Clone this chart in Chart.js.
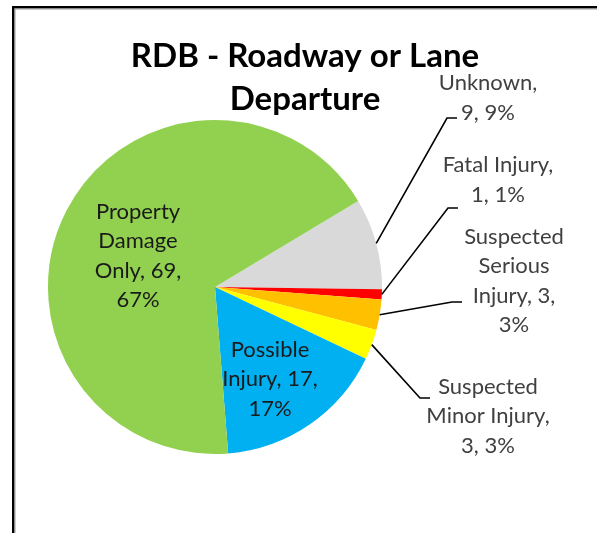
<!DOCTYPE html>
<html>
<head>
<meta charset="utf-8">
<script src="https://cdn.jsdelivr.net/npm/chart.js@4"></script>
<style>
  html, body { margin: 0; padding: 0; background: #fff; }
  #wrap { width: 597px; height: 533px; position: relative; }
</style>
</head>
<body>
<div id="wrap"><canvas id="pieChart" width="597" height="533"></canvas></div>
<script>
const titleLines = ["RDB - Roadway or Lane", "Departure"];
const categories = ["Unknown", "Fatal Injury", "Suspected Serious Injury", "Suspected Minor Injury", "Possible Injury", "Property Damage Only"];
const counts = [9, 1, 3, 3, 17, 69];
const percents = [9, 1, 3, 3, 17, 67];
const colors = ["#D9D9D9", "#FF0000", "#FFC000", "#FFFF00", "#00B0F0", "#92D050"];

// label layout, offsets from the pie centre (px); wrap = max line width
const labelLayout = [
  { dx: 273, dy: -189, wrap: 105, outside: true, end: [242, -169] },
  { dx: 283, dy: -107, wrap: 125, outside: true, end: [243, -79] },
  { dx: 299, dy: -6, wrap: 110, outside: true, end: [247, 15] },
  { dx: 273, dy: 129, wrap: 132, outside: true, end: [215, 111] },
  { dx: 55, dy: 92, wrap: 115, outside: false },
  { dx: -77, dy: -31, wrap: 115, outside: false }
];

const FONT = "Lato, 'Open Sans', sans-serif";

function wrapText(ctx, text, maxW) {
  const words = text.split(" ");
  const lines = [];
  let cur = "";
  words.forEach((w) => {
    const test = cur ? cur + " " + w : w;
    if (cur && ctx.measureText(test).width > maxW) {
      lines.push(cur);
      cur = w;
    } else {
      cur = test;
    }
  });
  if (cur) lines.push(cur);
  return lines;
}

const labelPlugin = {
  id: "excelLabels",
  beforeDraw(chart) {
    const ctx = chart.ctx;
    ctx.save();
    ctx.fillStyle = "#fff";
    ctx.fillRect(0, 0, chart.width, chart.height);
    // outer frame
    ctx.fillStyle = "#000";
    ctx.fillRect(12, 6, chart.width - 12, 2.5);
    ctx.fillRect(12, 6, 2.5, chart.height - 6);
    ctx.fillStyle = "#9a9a9a";
    ctx.fillRect(14.5, 8.5, chart.width - 14, 1);
    ctx.fillRect(14.5, 8.5, 1, chart.height - 8);
    ctx.restore();
  },
  afterDraw(chart) {
    const ctx = chart.ctx;
    const meta = chart.getDatasetMeta(0);
    ctx.save();

    // title
    ctx.fillStyle = "#000";
    ctx.font = "bold 33px " + FONT;
    ctx.textAlign = "center";
    ctx.textBaseline = "middle";
    titleLines.forEach((t, i) => ctx.fillText(t, 305, 56 + i * 43));

    ctx.font = "22px " + FONT;
    meta.data.forEach((arc, i) => {
      const lay = labelLayout[i];
      const cx = arc.x, cy = arc.y;
      const text = `${categories[i]}, ${counts[i]}, ${percents[i]}%`;
      const lines = wrapText(ctx, text, lay.wrap);
      const lh = 29.5;
      const lx = cx + lay.dx;
      const ly = cy + lay.dy - (lines.length - 1) * lh / 2;
      ctx.fillStyle = lay.outside ? "#404040" : "#1a1a1a";
      lines.forEach((ln, k) => ctx.fillText(ln, lx, ly + k * lh));

      if (lay.outside) {
        const mid = (arc.startAngle + arc.endAngle) / 2;
        const sx = cx + Math.cos(mid) * arc.outerRadius;
        const sy = cy + Math.sin(mid) * arc.outerRadius;
        const ex = cx + lay.end[0];
        const ey = cy + lay.end[1];
        ctx.strokeStyle = "#000";
        ctx.lineWidth = 1.6;
        ctx.beginPath();
        ctx.moveTo(sx, sy);
        ctx.lineTo(ex - 10, ey);
        ctx.lineTo(ex, ey);
        ctx.stroke();
      }
    });
    ctx.restore();
  }
};

new Chart(document.getElementById("pieChart").getContext("2d"), {
  type: "pie",
  data: {
    labels: categories,
    datasets: [{
      data: counts,
      backgroundColor: colors,
      borderWidth: 0
    }]
  },
  options: {
    responsive: false,
    animation: false,
    rotation: 59,
    layout: { padding: { left: 48, right: 215, top: 120, bottom: 79 } },
    plugins: {
      legend: { display: false },
      title: { display: false },
      tooltip: { enabled: false }
    }
  },
  plugins: [labelPlugin]
});
</script>
</body>
</html>
